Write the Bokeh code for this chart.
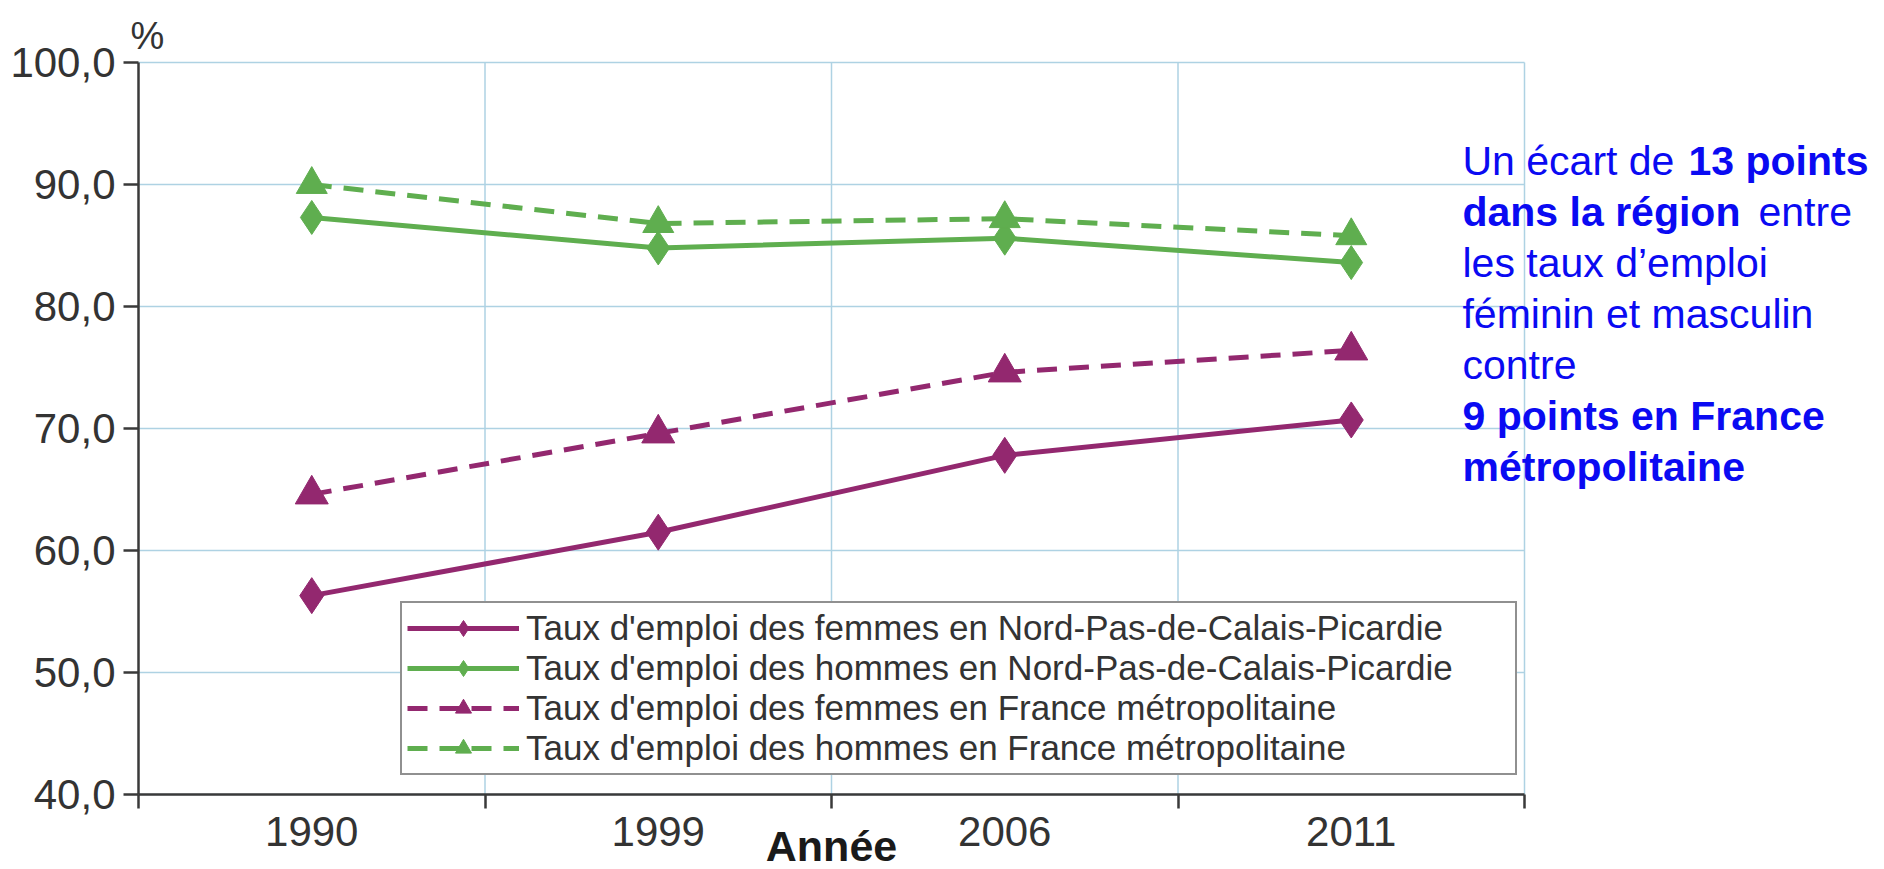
from bokeh.plotting import figure
from bokeh.models import Range1d, FixedTicker, Label, Legend, LegendItem
from bokeh.embed import file_html
from bokeh.resources import INLINE

# ---- data ----
years = ["1990", "1999", "2006", "2011"]
femmes_npdcp = [56.3, 61.5, 67.8, 70.7]
hommes_npdcp = [87.3, 84.8, 85.6, 83.6]
femmes_france = [64.6, 69.6, 74.6, 76.4]
hommes_france = [90.0, 86.8, 87.2, 85.8]
y_ticks = [40, 50, 60, 70, 80, 90, 100]
y_tick_labels = ["40,0", "50,0", "60,0", "70,0", "80,0", "90,0", "100,0"]
series_labels = [
    "Taux d'emploi des femmes en Nord-Pas-de-Calais-Picardie",
    "Taux d'emploi des hommes en Nord-Pas-de-Calais-Picardie",
    "Taux d'emploi des femmes en France métropolitaine",
    "Taux d'emploi des hommes en France métropolitaine",
]

PURPLE = "#93286f"
GREEN = "#5fae4f"
GRID = "#aed2e3"
AXIS = "#3a3a3a"
TXT = "#333333"
BLUE = "#0a0af2"
FONT = "Liberation Sans"

n = len(years)
xs = [i + 0.5 for i in range(n)]
bounds_x = list(range(n + 1))
ymin, ymax = y_ticks[0], y_ticks[-1]

# frame covers the whole canvas; axes are placed with fixed_location
W, H = 1884, 869
px_x = (1524 - 138) / n            # pixels per category
px_y = (794 - 62) / (ymax - ymin)  # pixels per unit
x_range = Range1d(-138 / px_x, n + (W - 1524) / px_x)
y_range = Range1d(ymin - (H - 794) / px_y, ymax + 62 / px_y)

p = figure(width=W, height=H, output_backend="svg", toolbar_location=None,
           x_range=x_range, y_range=y_range,
           min_border_left=0, min_border_right=0, min_border_top=0, min_border_bottom=0)
p.outline_line_color = None
p.background_fill_color = "white"
p.border_fill_color = "white"
p.xgrid.visible = False
p.ygrid.visible = False

# grid lines (limited to the data area)
p.segment(x0=[0] * len(y_ticks), x1=[n] * len(y_ticks), y0=y_ticks, y1=y_ticks,
          line_color=GRID, line_width=1.5)
p.segment(x0=bounds_x[1:], x1=bounds_x[1:], y0=[ymin] * n, y1=[ymax] * n,
          line_color=GRID, line_width=1.5)

# axes
p.xaxis.fixed_location = ymin
p.xaxis.bounds = (0, n)
p.xaxis.ticker = FixedTicker(ticks=xs, minor_ticks=bounds_x)
p.xaxis.major_label_overrides = {x: y for x, y in zip(xs, years)}
p.xaxis.major_tick_line_color = None
p.xaxis.major_tick_out = 0
p.xaxis.major_tick_in = 0
p.xaxis.minor_tick_out = 14
p.xaxis.minor_tick_in = 0
p.xaxis.minor_tick_line_color = AXIS
p.xaxis.minor_tick_line_width = 2.5
p.xaxis.major_label_standoff = 8

p.yaxis.fixed_location = 0
p.yaxis.bounds = (ymin, ymax)
p.yaxis.ticker = FixedTicker(ticks=y_ticks, minor_ticks=[])
p.yaxis.major_label_overrides = {t: l for t, l in zip(y_ticks, y_tick_labels)}
p.yaxis.major_tick_out = 15
p.yaxis.major_tick_in = 0
p.yaxis.major_tick_line_color = AXIS
p.yaxis.major_tick_line_width = 2.5
p.yaxis.major_label_standoff = 8

for ax in (p.xaxis, p.yaxis):
    ax.axis_line_color = AXIS
    ax.axis_line_width = 2.5
    ax.major_label_text_font = FONT
    ax.major_label_text_font_size = "42px"
    ax.major_label_text_color = TXT

# series: (values, colour, dash, marker, size)
specs = [
    (femmes_npdcp, PURPLE, "solid", "diamond", 36),
    (hommes_npdcp, GREEN, "solid", "diamond", 34),
    (femmes_france, PURPLE, "20 12", "triangle", 33),
    (hommes_france, GREEN, "20 12", "triangle", 31),
]
items = []
for (vals, col, dash, mk, sz), lab in zip(specs, series_labels):
    lr = p.line(xs, vals, line_color=col, line_width=5, line_dash=dash)
    sr = p.scatter(xs, vals, marker=mk, size=sz, fill_color=col, line_color=col)
    items.append(LegendItem(label=lab, renderers=[lr, sr]))

legend = Legend(items=items, location=(400, H - 775), orientation="vertical",
                label_text_font=FONT, label_text_font_size="35px", label_text_color=TXT,
                glyph_width=112, glyph_height=40, label_height=40, label_width=984,
                label_standoff=7, spacing=0, padding=5, margin=0,
                border_line_color="#222222", border_line_width=2,
                background_fill_color="white", background_fill_alpha=1.0)
p.add_layout(legend, "center")

# "%" unit label
p.add_layout(Label(x=0.026, y=102.2, text="%", text_font=FONT, text_font_size="38px",
                   text_color=TXT, text_align="center", text_baseline="alphabetic"))
# x axis title
p.add_layout(Label(x=n / 2, y=35.8, text="Année", text_font=FONT, text_font_size="43px",
                   text_font_style="bold", text_color="#1a1a1a", text_align="center",
                   text_baseline="alphabetic"))

# annotation
ax0 = 3.821
lines = [
    [("Un écart de ", "normal", 0), ("13 points", "bold", 226)],
    [("dans la région", "bold", 0), ("entre", "normal", 296)],
    [("les taux d’emploi", "normal", 0)],
    [("féminin et masculin", "normal", 0)],
    [("contre", "normal", 0)],
    [("9 points en France", "bold", 0)],
    [("métropolitaine", "bold", 0)],
]
y0, dy = 91.89, 4.18
for i, segs in enumerate(lines):
    for txt, style, off in segs:
        p.add_layout(Label(x=ax0, y=y0 - i * dy, x_offset=off, text=txt, text_font=FONT,
                           text_font_size="41px", text_font_style=style, text_color=BLUE,
                           text_align="left", text_baseline="alphabetic"))

open("out.html", "w").write(file_html(p, INLINE))
